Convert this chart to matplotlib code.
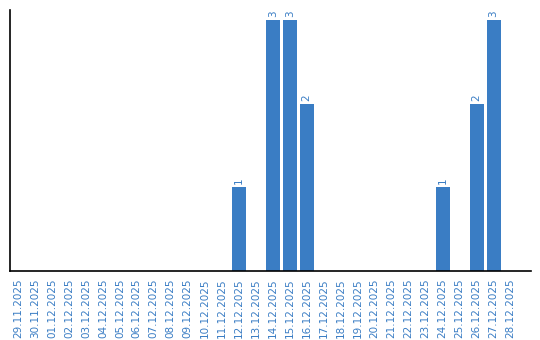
import matplotlib.pyplot as plt
import numpy as np

dates = ['29.11.2025', '30.11.2025', '01.12.2025', '02.12.2025', '03.12.2025',
         '04.12.2025', '05.12.2025', '06.12.2025', '07.12.2025', '08.12.2025',
         '09.12.2025', '10.12.2025', '11.12.2025', '12.12.2025', '13.12.2025',
         '14.12.2025', '15.12.2025', '16.12.2025', '17.12.2025', '18.12.2025',
         '19.12.2025', '20.12.2025', '21.12.2025', '22.12.2025', '23.12.2025',
         '24.12.2025', '25.12.2025', '26.12.2025', '27.12.2025', '28.12.2025']
counts = [0, 0, 0, 0, 0, 0, 0, 0, 0, 0, 0, 0, 0, 1, 0,
          3, 3, 2, 0, 0, 0, 0, 0, 0, 0, 1, 0, 2, 3, 0]

blue = '#3a7dc4'

fig = plt.figure(figsize=(5.4, 3.4), dpi=100)
ax = fig.add_axes([0.0194, 0.2044, 0.9636, 0.7662])

x = np.arange(len(dates))
bars = ax.bar(x, counts, width=0.82, color=blue)

labels = [str(c) if c > 0 else '' for c in counts]
ax.bar_label(bars, labels=labels, rotation=90, padding=2, color=blue, fontsize=7.5)

ax.set_xticks(x)
ax.set_xticklabels(dates, rotation=90, color=blue, fontsize=7.5)
ax.tick_params(axis='x', length=0, pad=6)
ax.set_yticks([])

ax.set_xlim(-0.44, 30.19)
ax.set_ylim(0, 3.12)

ax.spines['top'].set_visible(False)
ax.spines['right'].set_visible(False)
ax.spines['left'].set_linewidth(1.2)
ax.spines['bottom'].set_linewidth(1.2)

plt.savefig('out.png', dpi=100)
